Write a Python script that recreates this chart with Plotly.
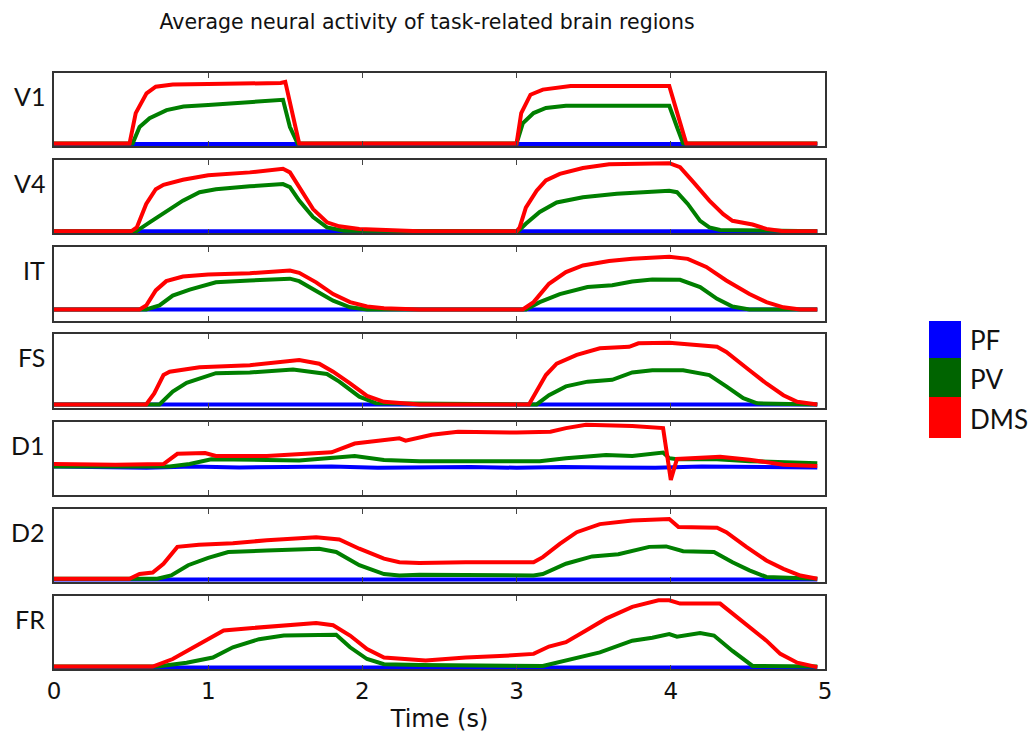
import plotly.graph_objects as go

# ---- data: time (s) and normalised activity per region ----
REGIONS = ["V1", "V4", "IT", "FS", "D1", "D2", "FR"]

V1_PF_t = [0, 0.5, 1.0, 1.5, 2.0, 2.5, 3.0, 3.5, 4.0, 4.5, 4.95]
V1_PF_y = [0.027, 0.027, 0.03, 0.027, 0.027, 0.025, 0.027, 0.03, 0.027, 0.027, 0.027]
V1_PV_t = [0, 0.51, 0.555, 0.62, 0.73, 0.84, 1.0, 1.27, 1.485, 1.53, 1.58, 3.0, 3.04, 3.11, 3.19, 3.32, 3.99, 4.04, 4.08, 4.95]
V1_PV_y = [0.037, 0.037, 0.26, 0.38, 0.49, 0.54, 0.56, 0.60, 0.63, 0.26, 0.037, 0.037, 0.31, 0.45, 0.52, 0.55, 0.55, 0.26, 0.037, 0.037]
V1_DMS_t = [0, 0.49, 0.53, 0.60, 0.66, 0.77, 1.0, 1.25, 1.47, 1.50, 1.59, 2.0, 2.5, 3.0, 3.03, 3.09, 3.17, 3.35, 3.6, 3.99, 4.10, 4.5, 4.95]
V1_DMS_y = [0.037, 0.037, 0.45, 0.72, 0.81, 0.84, 0.845, 0.85, 0.86, 0.875, 0.037, 0.037, 0.04, 0.037, 0.45, 0.70, 0.77, 0.82, 0.82, 0.82, 0.037, 0.037, 0.037]

V4_PF_t = [0, 0.5, 1.0, 1.5, 2.0, 2.5, 3.0, 3.5, 4.0, 4.5, 4.95]
V4_PF_y = [0.027, 0.027, 0.03, 0.027, 0.027, 0.027, 0.027, 0.03, 0.027, 0.027, 0.027]
V4_PV_t = [0, 0.533, 0.62, 0.728, 0.836, 0.944, 1.05, 1.27, 1.485, 1.53, 1.59, 1.68, 1.77, 1.88, 3.01, 3.06, 3.15, 3.26, 3.43, 3.65, 3.99, 4.04, 4.11, 4.19, 4.25, 4.32, 4.95]
V4_PV_y = [0.027, 0.027, 0.15, 0.29, 0.445, 0.56, 0.60, 0.64, 0.67, 0.63, 0.445, 0.22, 0.08, 0.036, 0.027, 0.13, 0.29, 0.42, 0.49, 0.54, 0.58, 0.56, 0.40, 0.17, 0.08, 0.045, 0.027]
V4_DMS_t = [0, 0.5, 0.537, 0.598, 0.66, 0.71, 0.836, 1.0, 1.27, 1.485, 1.53, 1.59, 1.68, 1.77, 1.85, 1.98, 2.37, 3.0, 3.02, 3.06, 3.13, 3.19, 3.28, 3.43, 3.60, 3.99, 4.06, 4.145, 4.25, 4.34, 4.40, 4.53, 4.62, 4.73, 4.95]
V4_DMS_y = [0.027, 0.027, 0.08, 0.40, 0.60, 0.66, 0.73, 0.79, 0.83, 0.88, 0.83, 0.63, 0.33, 0.15, 0.095, 0.06, 0.027, 0.027, 0.08, 0.35, 0.58, 0.72, 0.81, 0.89, 0.94, 0.955, 0.90, 0.70, 0.445, 0.26, 0.17, 0.12, 0.06, 0.027, 0.027]

IT_PF_t = [0, 0.5, 1.0, 1.5, 2.0, 2.5, 3.0, 3.5, 4.0, 4.5, 4.95]
IT_PF_y = [0.15, 0.15, 0.148, 0.15, 0.15, 0.15, 0.15, 0.148, 0.15, 0.15, 0.15]
IT_PV_t = [0, 0.598, 0.684, 0.77, 0.88, 1.05, 1.27, 1.53, 1.59, 1.70, 1.81, 1.92, 2.03, 3.06, 3.15, 3.28, 3.46, 3.62, 3.75, 3.88, 4.06, 4.19, 4.30, 4.40, 4.51, 4.95]
IT_PV_y = [0.15, 0.15, 0.205, 0.34, 0.42, 0.52, 0.545, 0.57, 0.536, 0.41, 0.27, 0.18, 0.15, 0.15, 0.25, 0.36, 0.455, 0.48, 0.53, 0.56, 0.555, 0.455, 0.295, 0.19, 0.15, 0.15]
IT_DMS_t = [0, 0.555, 0.598, 0.66, 0.728, 0.836, 1.0, 1.27, 1.53, 1.59, 1.70, 1.81, 1.92, 2.03, 2.14, 2.37, 3.04, 3.11, 3.21, 3.32, 3.43, 3.60, 3.75, 3.99, 4.11, 4.23, 4.36, 4.51, 4.62, 4.73, 4.84, 4.95]
IT_DMS_y = [0.15, 0.15, 0.205, 0.41, 0.536, 0.60, 0.627, 0.645, 0.68, 0.65, 0.52, 0.36, 0.25, 0.19, 0.168, 0.15, 0.15, 0.25, 0.50, 0.66, 0.75, 0.81, 0.84, 0.87, 0.84, 0.73, 0.545, 0.36, 0.25, 0.18, 0.15, 0.15]

FS_PF_t = [0, 0.5, 1.0, 1.5, 2.0, 2.5, 3.0, 3.5, 4.0, 4.5, 4.95]
FS_PF_y = [0.045, 0.045, 0.045, 0.042, 0.045, 0.045, 0.045, 0.045, 0.042, 0.045, 0.045]
FS_PV_t = [0, 0.684, 0.77, 0.86, 1.05, 1.27, 1.55, 1.77, 1.85, 1.98, 2.09, 3.13, 3.21, 3.32, 3.46, 3.62, 3.75, 3.88, 4.08, 4.25, 4.36, 4.47, 4.56, 4.95]
FS_PV_y = [0.045, 0.045, 0.22, 0.34, 0.47, 0.48, 0.52, 0.46, 0.355, 0.15, 0.06, 0.045, 0.17, 0.29, 0.355, 0.38, 0.48, 0.51, 0.51, 0.445, 0.29, 0.13, 0.06, 0.045]
FS_DMS_t = [0, 0.598, 0.65, 0.71, 0.75, 0.944, 1.27, 1.59, 1.72, 1.81, 1.92, 2.03, 2.14, 2.37, 3.08, 3.19, 3.26, 3.39, 3.54, 3.73, 3.79, 3.99, 4.30, 4.36, 4.51, 4.62, 4.73, 4.82, 4.95]
FS_DMS_y = [0.045, 0.045, 0.195, 0.445, 0.49, 0.55, 0.58, 0.65, 0.60, 0.49, 0.33, 0.16, 0.08, 0.045, 0.045, 0.445, 0.60, 0.72, 0.81, 0.83, 0.877, 0.886, 0.83, 0.76, 0.51, 0.33, 0.17, 0.08, 0.045]

D1_PF_t = [0, 0.3, 0.6, 0.9, 1.2, 1.5, 1.8, 2.1, 2.4, 2.7, 3.0, 3.3, 3.6, 3.9, 4.2, 4.5, 4.8, 4.95]
D1_PF_y = [0.386, 0.38, 0.37, 0.386, 0.375, 0.38, 0.386, 0.37, 0.375, 0.38, 0.37, 0.38, 0.375, 0.37, 0.386, 0.38, 0.37, 0.375]
D1_PV_t = [0, 0.75, 0.88, 1.02, 1.38, 1.59, 1.95, 2.14, 2.37, 3.15, 3.32, 3.58, 3.75, 3.95, 3.99, 4.04, 4.30, 4.51, 4.95]
D1_PV_y = [0.386, 0.386, 0.42, 0.486, 0.477, 0.47, 0.53, 0.477, 0.46, 0.46, 0.50, 0.545, 0.53, 0.577, 0.50, 0.486, 0.486, 0.46, 0.43]
D1_DMS_t = [0, 0.4, 0.71, 0.80, 0.98, 1.05, 1.38, 1.59, 1.80, 1.95, 2.14, 2.24, 2.28, 2.45, 2.62, 3.0, 3.22, 3.32, 3.45, 3.75, 3.95, 4.0, 4.04, 4.19, 4.32, 4.51, 4.73, 4.95]
D1_DMS_y = [0.42, 0.41, 0.42, 0.56, 0.57, 0.53, 0.53, 0.56, 0.58, 0.70, 0.74, 0.77, 0.74, 0.82, 0.86, 0.85, 0.86, 0.91, 0.955, 0.94, 0.91, 0.205, 0.49, 0.50, 0.52, 0.48, 0.41, 0.395]

D2_PF_t = [0, 0.5, 1.0, 1.5, 2.0, 2.5, 3.0, 3.5, 4.0, 4.5, 4.95]
D2_PF_y = [0.036, 0.036, 0.033, 0.036, 0.036, 0.036, 0.033, 0.036, 0.036, 0.036, 0.036]
D2_PV_t = [0, 0.67, 0.76, 0.87, 1.00, 1.13, 1.38, 1.72, 1.83, 1.98, 2.14, 2.24, 2.37, 3.11, 3.17, 3.32, 3.49, 3.66, 3.86, 3.97, 4.08, 4.28, 4.40, 4.51, 4.62, 4.95]
D2_PV_y = [0.045, 0.045, 0.09, 0.23, 0.33, 0.41, 0.43, 0.455, 0.41, 0.23, 0.11, 0.09, 0.10, 0.09, 0.11, 0.25, 0.35, 0.38, 0.48, 0.486, 0.42, 0.41, 0.27, 0.16, 0.07, 0.045]
D2_DMS_t = [0, 0.49, 0.555, 0.64, 0.71, 0.80, 0.94, 1.16, 1.38, 1.70, 1.85, 1.98, 2.14, 2.24, 2.37, 2.67, 3.11, 3.17, 3.28, 3.39, 3.54, 3.75, 3.99, 4.05, 4.30, 4.36, 4.49, 4.62, 4.73, 4.84, 4.95]
D2_DMS_y = [0.045, 0.045, 0.11, 0.13, 0.25, 0.48, 0.51, 0.53, 0.57, 0.61, 0.58, 0.455, 0.32, 0.27, 0.26, 0.27, 0.27, 0.34, 0.52, 0.68, 0.79, 0.84, 0.86, 0.75, 0.74, 0.68, 0.48, 0.295, 0.18, 0.09, 0.045]

FR_PF_t = [0, 0.5, 1.0, 1.5, 2.0, 2.5, 3.0, 3.5, 4.0, 4.5, 4.95]
FR_PF_y = [0.023, 0.023, 0.026, 0.023, 0.023, 0.023, 0.026, 0.023, 0.023, 0.026, 0.023]
FR_PV_t = [0, 0.67, 0.86, 1.03, 1.16, 1.33, 1.49, 1.83, 1.92, 2.03, 2.14, 2.37, 3.17, 3.32, 3.54, 3.75, 3.88, 3.99, 4.04, 4.19, 4.28, 4.40, 4.53, 4.95]
FR_PV_y = [0.037, 0.037, 0.09, 0.16, 0.30, 0.41, 0.46, 0.47, 0.30, 0.14, 0.07, 0.06, 0.046, 0.115, 0.23, 0.39, 0.43, 0.48, 0.445, 0.495, 0.46, 0.25, 0.046, 0.037]
FR_DMS_t = [0, 0.64, 0.77, 0.88, 0.99, 1.10, 1.27, 1.49, 1.70, 1.81, 1.92, 2.03, 2.14, 2.41, 2.67, 2.89, 3.11, 3.21, 3.32, 3.45, 3.58, 3.75, 3.92, 3.99, 4.06, 4.32, 4.40, 4.53, 4.62, 4.71, 4.82, 4.95]
FR_DMS_y = [0.037, 0.037, 0.14, 0.275, 0.41, 0.53, 0.56, 0.60, 0.63, 0.60, 0.46, 0.275, 0.16, 0.12, 0.16, 0.18, 0.21, 0.31, 0.37, 0.53, 0.69, 0.85, 0.94, 0.94, 0.895, 0.895, 0.76, 0.53, 0.39, 0.21, 0.09, 0.03]

SERIES = ["PF", "PV", "DMS"]
COLORS = {"PF": "#0000ff", "PV": "#007f00", "DMS": "#ff0000"}
X_TICKS = [0, 1, 2, 3, 4, 5]

DATA = {
    "V1": {"PF": (V1_PF_t, V1_PF_y), "PV": (V1_PV_t, V1_PV_y), "DMS": (V1_DMS_t, V1_DMS_y)},
    "V4": {"PF": (V4_PF_t, V4_PF_y), "PV": (V4_PV_t, V4_PV_y), "DMS": (V4_DMS_t, V4_DMS_y)},
    "IT": {"PF": (IT_PF_t, IT_PF_y), "PV": (IT_PV_t, IT_PV_y), "DMS": (IT_DMS_t, IT_DMS_y)},
    "FS": {"PF": (FS_PF_t, FS_PF_y), "PV": (FS_PV_t, FS_PV_y), "DMS": (FS_DMS_t, FS_DMS_y)},
    "D1": {"PF": (D1_PF_t, D1_PF_y), "PV": (D1_PV_t, D1_PV_y), "DMS": (D1_DMS_t, D1_DMS_y)},
    "D2": {"PF": (D2_PF_t, D2_PF_y), "PV": (D2_PV_t, D2_PV_y), "DMS": (D2_DMS_t, D2_DMS_y)},
    "FR": {"PF": (FR_PF_t, FR_PF_y), "PV": (FR_PV_t, FR_PV_y), "DMS": (FR_DMS_t, FR_DMS_y)},
}

# ---- page geometry (pixels) ----
W, H = 1034, 733
ML, MR = 54, 209
PANEL_TOP0, PANEL_STEP, PANEL_H = 72.7, 87.2, 73.4


def py(p):
    """pixel row -> paper y (no top/bottom margin)"""
    return 1 - p / H


def pxx(p):
    """pixel column -> paper x"""
    return (p - ML) / (W - ML - MR)


fig = go.Figure()
layout = dict(
    width=W, height=H,
    margin=dict(l=ML, r=MR, t=0, b=0, autoexpand=False),
    paper_bgcolor="white", plot_bgcolor="white",
    showlegend=False,
    font=dict(family="DejaVu Sans", color="#111"),
)

annotations = []
for i, reg in enumerate(REGIONS):
    n = i + 1
    xa = "x" if n == 1 else f"x{n}"
    ya = "y" if n == 1 else f"y{n}"
    for s in SERIES:
        t, v = DATA[reg][s]
        fig.add_trace(go.Scatter(
            x=t, y=v, mode="lines", name=s, xaxis=xa, yaxis=ya,
            line=dict(color=COLORS[s], width=4),
        ))
    top = PANEL_TOP0 + i * PANEL_STEP
    bot = top + PANEL_H
    last = (i == len(REGIONS) - 1)
    layout[f"xaxis{n if n > 1 else ''}"] = dict(
        domain=[0, 1], range=[0, 5], anchor=ya,
        tickvals=X_TICKS, ticktext=[str(k) for k in X_TICKS],
        ticks="inside", ticklen=5, tickwidth=1, tickcolor="#444",
        showline=True, mirror="ticks", linecolor="#333", linewidth=1.6,
        showgrid=False, zeroline=False,
        showticklabels=last,
        tickfont=dict(family="DejaVu Sans", size=23, color="#111"),
        title=dict(text="Time (s)", standoff=7,
                   font=dict(family="DejaVu Sans", size=24, color="#111")) if last else None,
        automargin=False,
    )
    layout[f"yaxis{n if n > 1 else ''}"] = dict(
        domain=[py(bot), py(top)], range=[0, 1], anchor=xa,
        showticklabels=False, ticks="",
        showline=True, mirror=True, linecolor="#333", linewidth=1.6,
        showgrid=False, zeroline=False, automargin=False,
    )
    annotations.append(dict(
        text=reg, xref="paper", yref="paper",
        x=pxx(47), y=py(top + 23), xanchor="right", yanchor="middle",
        showarrow=False, font=dict(family="Lato", size=25, color="#111"),
    ))

# legend: colour patches with labels
patch_rows = [(321, 358), (358, 397), (397, 438)]
shapes = []
for s, (a, b) in zip(SERIES, patch_rows):
    shapes.append(dict(
        type="rect", xref="paper", yref="paper",
        x0=pxx(929), x1=pxx(961), y0=py(b), y1=py(a),
        fillcolor=COLORS[s] if s != "PV" else "#006400", line=dict(width=0),
    ))
    annotations.append(dict(
        text=s, xref="paper", yref="paper",
        x=pxx(968), y=py((a + b) / 2 + 1), xanchor="left", yanchor="middle",
        showarrow=False, font=dict(family="Lato", size=26, color="#111"),
    ))

layout["annotations"] = annotations
layout["shapes"] = shapes
layout["title"] = dict(
    text="Average neural activity of task-related brain regions",
    xref="paper", x=pxx(427), xanchor="center",
    yref="container", y=py(22), yanchor="middle",
    font=dict(family="DejaVu Sans", size=20.5, color="#111"),
)
fig.update_layout(**layout)
fig.write_html("out.html")
